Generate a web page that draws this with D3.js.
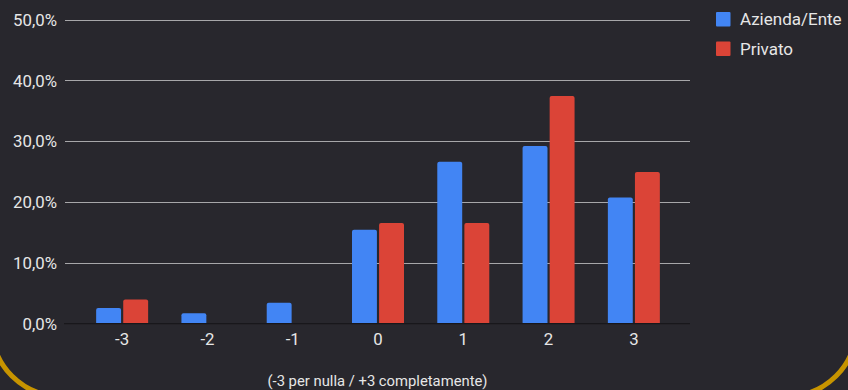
<!DOCTYPE html>
<html>
<head>
<meta charset="utf-8">
<script src="https://cdn.jsdelivr.net/npm/d3@7"></script>
<style>
  html, body { margin: 0; padding: 0; background: #28272d; }
  svg { display: block; }
  text { font-family: Roboto, "Noto Sans", sans-serif; fill: #e6e6e6; }
</style>
</head>
<body>
<svg id="chart" width="848" height="390"></svg>
<script>
// Rating scale and survey shares (percent) per respondent type
const categories = ["-3", "-2", "-1", "0", "1", "2", "3"];
const seriesNames = ["Azienda/Ente", "Privato"];
const aziendaValues = [2.5, 1.65, 3.4, 15.4, 26.6, 29.2, 20.7];
const privatoValues = [3.9, 0, 0, 16.5, 16.5, 37.4, 24.9];
const yTicks = [0, 0.1, 0.2, 0.3, 0.4, 0.5];
const xTitle = "(-3 per nulla / +3 completamente)";
const colors = ["#4285f4", "#db4437"];

const svg = d3.select("#chart");

// decorative gold rounded frame, only its lower corners fall inside the view
svg.append("rect")
  .attr("x", -8).attr("y", -300)
  .attr("width", 864).attr("height", 696)
  .attr("rx", 68).attr("ry", 68)
  .attr("fill", "none")
  .attr("stroke", "#c79400")
  .attr("stroke-width", 5);

const plot = { left: 65, right: 690, top: 19.5, bottom: 323.3 };

const itFormat = d3.formatLocale({ decimal: ",", thousands: ".", grouping: [3], currency: ["€", ""] }).format(".1%");

const y = d3.scaleLinear().domain([0, 0.5]).range([plot.bottom, plot.top]);
const x = d3.scaleBand().domain(categories).range([79.5, 676.5]).padding(0);
const inner = d3.scaleBand().domain(seriesNames).range([0, 52]).paddingInner(0.08);

// horizontal gridlines
svg.append("g")
  .selectAll("line")
  .data(yTicks.filter(d => d > 0))
  .join("line")
  .attr("x1", plot.left).attr("x2", plot.right)
  .attr("y1", d => Math.round(y(d)) + 0.5).attr("y2", d => Math.round(y(d)) + 0.5)
  .attr("stroke", "#a7a7a9").attr("stroke-width", 1);

// y axis labels
const yAxis = d3.axisLeft(y).tickValues(yTicks).tickFormat(itFormat).tickSize(0).tickPadding(0);
const gy = svg.append("g").attr("transform", `translate(${plot.left - 8},0)`).call(yAxis);
gy.select(".domain").remove();
gy.selectAll("text").attr("fill", "#e6e6e6").style("font-size", "16.8px").attr("dy", "0.35em")
  .style("font-family", "Roboto, sans-serif");

// bars
const rows = categories.map((c, i) => ({ cat: c, values: [aziendaValues[i], privatoValues[i]] }));
const groups = svg.append("g").selectAll("g")
  .data(rows)
  .join("g")
  .attr("transform", d => `translate(${x(d.cat) + x.bandwidth() / 2 - 26},0)`);

groups.selectAll("path")
  .data(d => d.values.map((v, j) => ({ name: seriesNames[j], v, j })).filter(e => e.v > 0))
  .join("path")
  .attr("fill", e => colors[e.j])
  .attr("d", e => {
    const x0 = inner(e.name), w = inner.bandwidth();
    const yt = y(e.v / 100), yb = y(0), r = Math.min(2, (yb - yt) / 2);
    return `M${x0},${yb} V${yt + r} Q${x0},${yt} ${x0 + r},${yt} H${x0 + w - r} Q${x0 + w},${yt} ${x0 + w},${yt + r} V${yb} Z`;
  });

// zero baseline
svg.append("line")
  .attr("x1", plot.left - 1).attr("x2", plot.right)
  .attr("y1", plot.bottom + 0.3).attr("y2", plot.bottom + 0.3)
  .attr("stroke", "#18171b").attr("stroke-width", 1.2);

// x axis labels
const xAxis = d3.axisBottom(x).tickSize(0).tickPadding(0);
const gx = svg.append("g").attr("transform", `translate(0,${plot.bottom})`).call(xAxis);
gx.select(".domain").remove();
gx.selectAll("text").attr("fill", "#e6e6e6").style("font-size", "16.8px")
  .attr("y", 22).attr("dy", 0).style("font-family", "Roboto, sans-serif");

// x axis title
svg.append("text")
  .attr("x", 377.5).attr("y", 386)
  .attr("text-anchor", "middle")
  .style("font-size", "14.8px")
  .text(xTitle);

// legend
const legend = svg.append("g").selectAll("g")
  .data(seriesNames)
  .join("g")
  .attr("transform", (d, i) => `translate(716,${12 + i * 29.5})`);
legend.append("rect").attr("width", 14.5).attr("height", 14.5).attr("rx", 1).attr("fill", (d, i) => colors[i]);
legend.append("text").attr("x", 24).attr("y", 13).style("font-size", "17px").text(d => d);
</script>
</body>
</html>
